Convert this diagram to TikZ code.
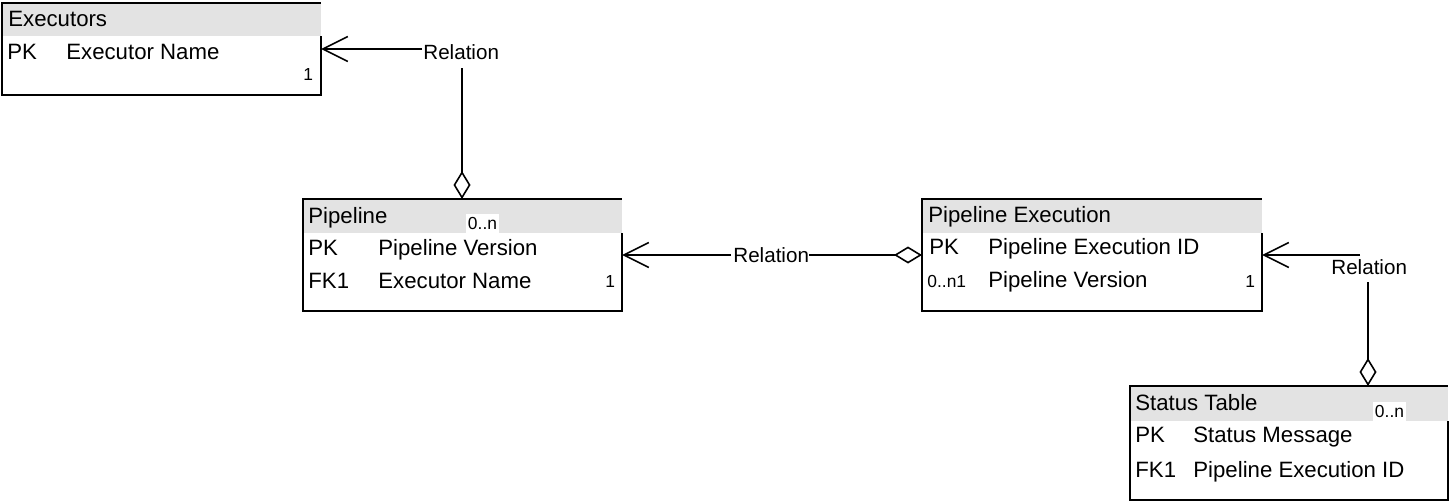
\documentclass[tikz,border=0pt]{standalone}
\usepackage{fontspec}
\setmainfont{Liberation Sans}
\usetikzlibrary{arrows.meta}
\definecolor{hdrgray}{RGB}{227,227,227}
\tikzset{
  tbl/.style={anchor=north west, inner sep=0pt, outer sep=0pt},
  hdr/.style={fill=hdrgray},
  bx/.style={line width=0.9pt, line join=miter},
  txt/.style={anchor=base west, inner sep=0pt, font=\fontsize{11.1}{13}\selectfont},
  sml/.style={anchor=base west, inner sep=0pt, font=\fontsize{8.7}{10}\selectfont},
  mult/.style={fill=white, inner sep=0pt, minimum width=16.5pt, minimum height=10pt, font=\fontsize{8.7}{10}\selectfont},
  rel/.style={anchor=base west, inner sep=0pt, font=\fontsize{10.3}{12}\selectfont},
  conn/.style={line width=0.8pt},
  barb/.style={-{Straight Barb[length=12.5pt, width=12.5pt, line width=0.8pt]}},
  dia/.style={-{Diamond[open, length=14pt, width=8.5pt, line width=0.8pt]}},
}
\begin{document}
\begin{tikzpicture}[x=0.5pt, y=-0.5pt]
\useasboundingbox (0,0) rectangle (1453,503);

% ---------- Executors ----------
\node[tbl, minimum width=159.5pt, minimum height=46pt] (exec) at (2,3) {};
\fill[hdr] (exec.north west) rectangle (exec.east |- 0,36);
\draw[bx] (exec.east |- 0,36) -- (exec.south east) -- (exec.south west) -- (exec.north west) -- (exec.north east);
\node[txt] (exech) at (8,26) {Executors};
\node[txt] (execpk) at (7,59) {PK};
\node[txt] (execn) at (66,59) {Executor Name};
\node[sml] (execm) at (303,80) {1};

% ---------- Pipeline ----------
\node[tbl, minimum width=159.5pt, minimum height=56pt] (pipe) at (303,199) {};
\fill[hdr] (pipe.north west) rectangle (pipe.east |- 0,233);
\draw[bx] (pipe.east |- 0,233) -- (pipe.south east) -- (pipe.south west) -- (pipe.north west) -- (pipe.north east);
\node[txt] (pipeh) at (308,223) {Pipeline};
\node[mult] (pipem1) at (482.5,223.5) {0..n};
\node[txt] (pipepk) at (308,255) {PK};
\node[txt] (pipev) at (378,255) {Pipeline Version};
\node[txt] (pipefk) at (308,288) {FK1};
\node[txt] (pipee) at (378,288) {Executor Name};
\node[sml] (pipem2) at (605,287) {1};

% ---------- Pipeline Execution ----------
\node[tbl, minimum width=170pt, minimum height=56pt] (pexec) at (922,199) {};
\fill[hdr] (pexec.north west) rectangle (pexec.east |- 0,233);
\draw[bx] (pexec.east |- 0,233) -- (pexec.south east) -- (pexec.south west) -- (pexec.north west) -- (pexec.north east);
\node[txt] (pexech) at (928,222) {Pipeline Execution};
\node[txt] (pexecpk) at (929,254) {PK};
\node[txt] (pexecid) at (988,254) {Pipeline Execution ID};
\node[sml] (pexecm1) at (927,287) {0..n1};
\node[txt] (pexecv) at (988,287) {Pipeline Version};
\node[sml] (pexecm2) at (1245,287) {1};

% ---------- Status Table ----------
\node[tbl, minimum width=159pt, minimum height=57pt] (stat) at (1130,386) {};
\fill[hdr] (stat.north west) rectangle (stat.east |- 0,421);
\draw[bx] (stat.east |- 0,421) -- (stat.south east) -- (stat.south west) -- (stat.north west) -- (stat.north east);
\node[txt] (stath) at (1135,410) {Status Table};
\node[mult] (statm) at (1389.5,411.5) {0..n};
\node[txt] (statpk) at (1135,442) {PK};
\node[txt] (statmsg) at (1193,442) {Status Message};
\node[txt] (statfk) at (1135,477) {FK1};
\node[txt] (statid) at (1193,477) {Pipeline Execution ID};

% ---------- Relation: Pipeline -> Executors ----------
\node[rel] (rel1) at (423,59) {Relation};
\coordinate (rel1w) at (422,49);
\coordinate (rel1s) at (462,68);
\draw[conn, barb] (rel1w) -- (exec.east |- rel1w);
\draw[conn, dia] (rel1s) -- (rel1s |- pipe.north);

% ---------- Relation: Pipeline Execution -> Pipeline ----------
\node[rel] (rel2) at (733,262) {Relation};
\coordinate (rel2w) at (731,255);
\coordinate (rel2e) at (809,255);
\draw[conn, barb] (rel2w) -- (rel2w -| pipe.east);
\draw[conn, dia] (rel2e) -- (rel2e -| pexec.west);

% ---------- Relation: Status Table -> Pipeline Execution ----------
\node[rel] (rel3) at (1331,274) {Relation};
\coordinate (rel3w) at (1360,255);
\coordinate (rel3s) at (1368,282);
\draw[conn, barb] (rel3w) -- (rel3w -| pexec.east);
\draw[conn, dia] (rel3s) -- (rel3s |- stat.north);
\end{tikzpicture}
\end{document}
